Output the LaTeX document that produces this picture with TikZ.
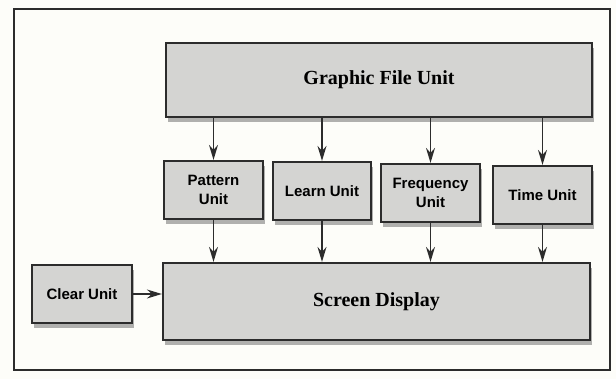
\documentclass[tikz,border=0pt]{standalone}
\usepackage{fontspec}
\setmainfont{Liberation Serif}
\setsansfont{Liberation Sans}
\usetikzlibrary{arrows.meta,shadows}

\definecolor{paper}{HTML}{FDFDF9}
\definecolor{ink}{HTML}{2C2C2C}
\definecolor{boxfill}{HTML}{D4D4D2}
\definecolor{shade}{HTML}{B0B0AE}

\begin{document}
\begin{tikzpicture}[x=1pt,y=-1pt,
  unit/.style={draw=ink, line width=2.2pt, fill=boxfill,
    drop shadow={shadow xshift=1.5pt, shadow yshift=-5pt, fill=shade, opacity=1},
    font=\sffamily\bfseries\fontsize{15}{19.5}\selectfont, align=center,
    inner sep=0pt, minimum width=99pt, minimum height=58pt},
  bigunit/.style={unit, font=\rmfamily\bfseries\fontsize{20}{24}\selectfont},
  link/.style={draw=ink, line width=1.6pt,
    -{Stealth[length=15pt, width=9pt, inset=5pt]}}]

  % page and outer frame
  \useasboundingbox[fill=paper] (0,0) rectangle (616,379);
  \draw[ink, line width=2.6pt] (14,9) rectangle (610,370);

  % source and sink
  \node[bigunit, minimum width=426pt, minimum height=74pt] (gfu) at (379,80) {Graphic File Unit};
  \node[bigunit, minimum width=427pt, minimum height=77pt] (scr) at (376.5,301.5) {Screen Display};

  % processing units
  \node[unit] (pat) at (213.5,190) {Pattern\\Unit};
  \node[unit, minimum width=98pt] (lrn) at (322,191) {Learn Unit};
  \node[unit] (frq) at (430.5,193) {Frequency\\Unit};
  \node[unit] (tim) at (542.5,195) {Time Unit};
  \node[unit, minimum width=100pt] (clr) at (82,294) {Clear Unit};

  % data flow
  \foreach \u in {pat,lrn,frq,tim}{
    \draw[link] (gfu.south -| \u) -- (\u.north);
    \draw[link] (\u.south) -- (\u.south |- scr.north);
  }
  \draw[link] (clr.east) -- (clr.east -| scr.west);
\end{tikzpicture}
\end{document}
